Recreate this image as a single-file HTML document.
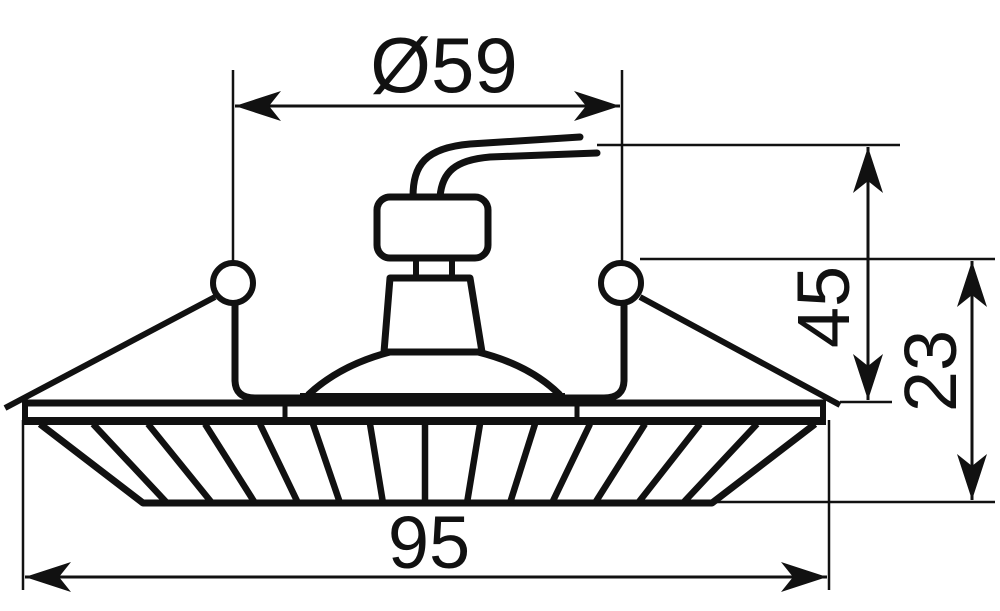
<!DOCTYPE html>
<html><head><meta charset="utf-8"><style>
html,body{margin:0;padding:0;background:#fff;}
svg{display:block;}
text{font-family:"Liberation Sans",Arial,sans-serif;fill:#111;}
</style></head><body>
<svg width="1000" height="611" viewBox="0 0 1000 611" xmlns="http://www.w3.org/2000/svg">
<defs>
<marker id="ah" viewBox="0 0 46 30" refX="46" refY="15" markerWidth="46" markerHeight="30" markerUnits="userSpaceOnUse" orient="auto-start-reverse">
<path d="M0,0 L46,15 L0,30 L12,15 Z" fill="#111"/>
</marker>
</defs>
<g stroke="#111" fill="none">
<!-- thin extension lines -->
<g stroke-width="2.5">
<line x1="233" y1="70" x2="233" y2="262"/>
<line x1="622" y1="70" x2="622" y2="262"/>
<line x1="597" y1="145" x2="900" y2="145"/>
<line x1="640" y1="259" x2="995" y2="259"/>
<line x1="840" y1="402" x2="892" y2="402"/>
<line x1="710" y1="502" x2="995" y2="502"/>
<line x1="23" y1="420" x2="23" y2="590"/>
<line x1="829" y1="420" x2="829" y2="590"/>
</g>
<!-- dimension lines -->
<g stroke-width="3">
<line x1="235" y1="106" x2="620" y2="106" marker-start="url(#ah)" marker-end="url(#ah)"/>
<line x1="25" y1="577" x2="827" y2="577" marker-start="url(#ah)" marker-end="url(#ah)"/>
<line x1="868" y1="147" x2="868" y2="400" marker-start="url(#ah)" marker-end="url(#ah)"/>
<line x1="972" y1="261" x2="972" y2="500" marker-start="url(#ah)" marker-end="url(#ah)"/>
</g>
<!-- wires -->
<g stroke-width="7" stroke-linecap="round">
<path d="M413,197 C413,165 425,148 470,144 L580,137"/>
<path d="M440,197 C442,172 455,160 490,157 L597,153"/>
</g>
<!-- connector box -->
<rect x="377" y="197" width="111" height="61" rx="13" stroke-width="7"/>
<line x1="416" y1="258" x2="416" y2="277" stroke-width="6"/>
<line x1="452" y1="258" x2="452" y2="277" stroke-width="6"/>
<!-- trapezoid -->
<path d="M390,278 L470,278 L482,352 L384,352 Z" stroke-width="7" stroke-linejoin="round"/>
<!-- dome -->
<path d="M308,395 Q340,365 390,352 L478,352 Q530,365 560,395" stroke-width="7"/>
<line x1="300" y1="398" x2="565" y2="398" stroke-width="10"/>
<!-- circles -->
<circle cx="233" cy="283" r="20" stroke-width="6"/>
<circle cx="621" cy="283" r="20" stroke-width="6"/>
<!-- diagonals -->
<line x1="5" y1="408" x2="215" y2="297" stroke-width="6"/>
<line x1="640" y1="297" x2="840" y2="405" stroke-width="6"/>
<!-- springs -->
<path d="M235,303 L235,380 Q235,398 255,398 L305,398" stroke-width="7"/>
<path d="M624,303 L624,380 Q624,398 604,398 L560,398" stroke-width="7"/>
<!-- plate -->
<line x1="22" y1="403" x2="826" y2="403" stroke-width="7"/>
<line x1="22" y1="421" x2="826" y2="421" stroke-width="8"/>
<line x1="25" y1="400" x2="25" y2="425" stroke-width="6"/>
<line x1="823" y1="400" x2="823" y2="425" stroke-width="6"/>
<line x1="285" y1="403" x2="285" y2="421" stroke-width="5"/>
<line x1="577" y1="403" x2="577" y2="421" stroke-width="5"/>
<!-- louver ring -->
<path d="M40,424 L143,503 L712,503 L815,424" stroke-width="7" stroke-linejoin="round"/>
<g stroke-width="6.5">
<line x1="93" y1="424" x2="167" y2="503"/>
<line x1="148" y1="424" x2="212" y2="503"/>
<line x1="205" y1="424" x2="255" y2="503"/>
<line x1="260" y1="424" x2="298" y2="503"/>
<line x1="313" y1="424" x2="340" y2="503"/>
<line x1="370" y1="424" x2="383" y2="503"/>
<line x1="425" y1="424" x2="425" y2="503"/>
<line x1="480" y1="424" x2="467" y2="503"/>
<line x1="535" y1="424" x2="510" y2="503"/>
<line x1="590" y1="424" x2="552" y2="503"/>
<line x1="645" y1="424" x2="595" y2="503"/>
<line x1="700" y1="424" x2="638" y2="503"/>
<line x1="757" y1="424" x2="683" y2="503"/>
</g>
</g>
<!-- labels -->
<text x="444" y="92" font-size="78" text-anchor="middle">Ø59</text>
<text x="429" y="568" font-size="74" text-anchor="middle">95</text>
<text transform="translate(849,307) rotate(-90)" font-size="74" text-anchor="middle">45</text>
<text transform="translate(956,371) rotate(-90)" font-size="74" text-anchor="middle">23</text>
</svg>
</body></html>
